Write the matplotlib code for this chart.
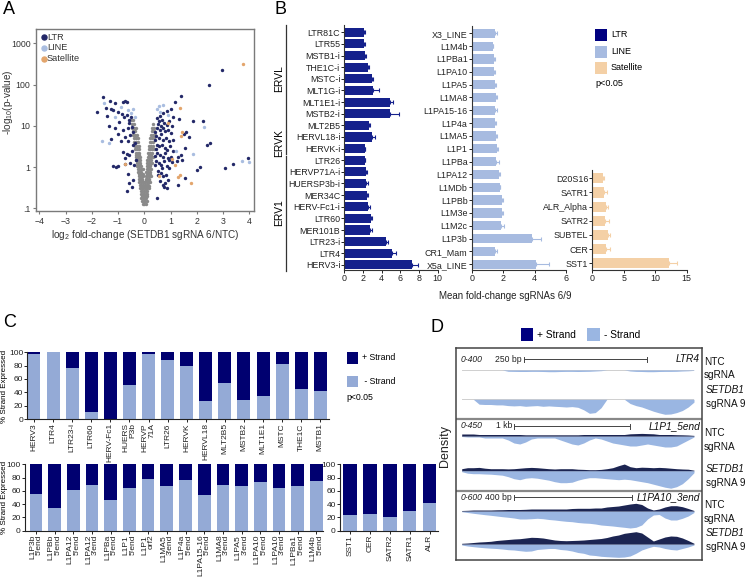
import numpy as np
import matplotlib
matplotlib.use("Agg")
import matplotlib.pyplot as plt
from matplotlib.lines import Line2D
from matplotlib.patches import Rectangle
from matplotlib.ticker import NullLocator

plt.rcParams['font.family'] = ['Liberation Sans', 'DejaVu Sans']
plt.rcParams['mathtext.fontset'] = 'custom'
plt.rcParams['mathtext.rm'] = 'Liberation Sans'
plt.rcParams['mathtext.it'] = 'Liberation Sans:italic'

# ---------------- Panel A data (volcano) ----------------
gray_levels = [14, 11, 9, 7.5, 6, 5, 4, 3.3, 2.7, 2.2, 2.0, 1.8, 1.5, 1.25, 1.15, 1.05, 0.88,
               0.74, 0.68, 0.62, 0.52, 0.48, 0.44, 0.37, 0.34, 0.31, 0.26, 0.22, 0.2, 0.18, 0.15, 0.125]
gray_rows = [
    [-0.50, -0.42],
    [-0.48, -0.40, 0.34],
    [-0.46, -0.38, -0.32, 0.30, 0.38],
    [-0.44, -0.36, 0.28, 0.35],
    [-0.42, -0.35, -0.28, 0.25, 0.32, 0.40],
    [-0.40, -0.33, -0.26, 0.22, 0.29, 0.36],
    [-0.38, -0.31, -0.24, 0.20, 0.27, 0.34],
    [-0.36, -0.29, -0.22, 0.18, 0.25, 0.32],
    [-0.35, -0.28, -0.21, 0.17, 0.23, 0.30, 0.37],
    [-0.33, -0.26, -0.19, 0.15, 0.21, 0.28],
    [-0.30, -0.22, 0.18, 0.24],
    [-0.31, -0.25, -0.18, 0.14, 0.20, 0.26, 0.33],
    [-0.30, -0.23, -0.16, 0.12, 0.18, 0.24],
    [-0.28, -0.22, -0.15, 0.11, 0.17, 0.23, 0.30],
    [-0.25, -0.18, 0.14, 0.20],
    [-0.27, -0.20, -0.13, 0.10, 0.16, 0.22],
    [-0.25, -0.19, -0.12, -0.06, 0.09, 0.15, 0.21, 0.27],
    [-0.24, -0.17, -0.11, 0.08, 0.14, 0.20],
    [-0.20, -0.13, -0.07, 0.10, 0.16, 0.22],
    [-0.22, -0.16, -0.10, -0.04, 0.06, 0.12, 0.18, 0.24],
    [-0.20, -0.14, -0.08, 0.05, 0.11, 0.17],
    [-0.17, -0.10, 0.07, 0.13, 0.19],
    [-0.19, -0.13, -0.07, -0.02, 0.04, 0.10, 0.16, 0.21],
    [-0.17, -0.11, -0.05, 0.03, 0.09, 0.14],
    [-0.14, -0.07, 0.05, 0.10, 0.16],
    [-0.16, -0.10, -0.04, 0.01, 0.07, 0.12, 0.18],
    [-0.14, -0.08, -0.02, 0.05, 0.11],
    [-0.13, -0.07, 0.00, 0.06, 0.12],
    [-0.10, -0.03, 0.04, 0.10],
    [-0.11, -0.05, 0.02, 0.08],
    [-0.09, -0.03, 0.04, 0.09],
    [-0.06, 0.00, 0.05],
]

ltr_x = [-1.58, -1.30, -1.10, -1.80, -1.46, -1.27, -1.18, -1.02, -0.80, -0.72, -0.65, -1.43, -0.85,
         -0.77, -0.67, -0.51, -0.57, -1.36, -1.12, -0.80, -0.63, -0.44, -0.53, -1.27, -0.89, -0.63,
         -0.44, -0.80, -0.67, -0.57, -0.47, -1.21, -1.08, -1.02, -0.72, -0.55, -0.38, -0.63, -0.44,
         -0.57, -0.66, -0.47, -0.72, -0.33, -0.35, -0.95, -0.60, -1.00, -0.75, -0.48,
         1.40, 1.17, 1.00, 0.85, 0.72, 0.60, 1.84, 2.25, 1.59, 1.51, 1.33, 1.11, 1.72, 2.50, 2.38,
         1.55, 1.38, 1.30, 1.42, 1.23, 1.04, 0.95, 2.12, 2.02, 3.07, 3.39, 3.96, 1.55, 1.30, 0.79,
         0.75, 0.47, 0.53, 0.66, 2.97, 2.48,
         0.47, 0.57, 0.66, 0.75, 0.85, 0.95, 1.04, 0.50, 0.60, 0.70, 0.79, 0.89, 1.00,
         0.45, 0.55, 0.64, 0.72, 0.83, 0.93, 1.08, 0.47, 0.57, 0.67, 0.78, 0.88, 0.98, 1.11,
         0.50, 0.60, 0.70, 0.80, 0.90, 1.00, 0.45, 0.55, 0.65, 0.75, 0.85, 0.95,
         0.53, 0.62, 0.72, 0.83, 0.92, 0.60, 0.70, 0.85, 0.52, 0.62, 0.42, 0.40, 0.43, 0.40, 0.42]
ltr_y = [51, 41, 36, 22, 27, 26, 24, 22, 38, 41, 38, 17, 19.5,
         16, 18, 16, 11.7, 9.8, 8.7, 8.1, 8.9, 7.1, 5.9, 4.7, 4.4, 4.3,
         3.5, 2.3, 2.1, 2.0, 2.5, 1.05, 1.0, 1.05, 1.2, 1.26, 1.12, 0.68, 0.5,
         0.42, 0.26, 0.32, 1.7, 1.5, 3.9, 12.5, 14, 6.5, 5.5, 9.5,
         54, 39, 25, 23, 21, 17, 12.9, 12.9, 7.2, 6.3, 14.8, 16.2, 5.4, 3.9, 3.4,
         2.95, 2.0, 1.78, 1.48, 1.38, 1.32, 1.48, 1.02, 0.85, 0.93, 1.17, 1.62, 0.54, 0.37, 0.41,
         0.32, 0.18, 0.66, 0.95, 229, 96,
         15.5, 12.9, 14.1, 11.7, 10.7, 12.9, 9.8, 8.9, 8.1, 8.9, 7.4, 8.1, 6.8,
         5.6, 5.0, 6.2, 4.6, 5.0, 4.2, 4.6, 3.5, 3.2, 3.5, 2.9, 2.6, 3.2, 2.4,
         2.2, 2.0, 1.8, 2.2, 1.66, 1.8, 1.38, 1.26, 1.15, 1.38, 1.05, 0.95,
         0.79, 0.72, 0.60, 0.66, 0.49, 0.45, 0.37, 0.31, 11, 10, 7, 4.5, 2.8, 1.9, 1.1]
line_x = [-1.53, -1.12, -0.63, -1.36, -0.44, -0.35, -0.90, 2.27, 1.84, 3.71, 3.99, 0.55, 0.60,
          0.48, 0.70, 1.20, 0.90, -0.50, -1.60]
line_y = [36, 16, 24, 3.9, 25, 16, 28, 9.5, 2.1, 1.41, 1.35, 30, 22, 25, 32, 2.5, 18, 20, 4.2]
sat_x = [3.76, 1.42, 1.38, 1.36, 1.76, 1.17, -0.72, 1.35, 0.90, 0.55, 1.05, 1.30]
sat_y = [316, 7.2, 5.6, 0.66, 0.41, 1.12, 1.17, 27, 12, 0.60, 1.6, 0.57]

# ---------------- Panel B data ----------------
ltr_names = ['LTR81C', 'LTR55', 'MSTB1-i', 'THE1C-i', 'MSTC-i', 'MLT1G-i', 'MLT1E1-i', 'MSTB2-i',
             'MLT2B5', 'HERVL18-i', 'HERVK-i', 'LTR26', 'HERVP71A-i', 'HUERSP3b-i', 'MER34C',
             'HERV-Fc1-i', 'LTR60', 'MER101B', 'LTR23-i', 'LTR4', 'HERV3-i']
ltr_vals = [2.14, 2.1, 2.2, 2.57, 2.93, 3.1, 4.9, 4.9, 2.64, 3.0, 2.2, 2.2, 2.3, 2.3, 2.46, 2.5,
            2.86, 2.8, 4.43, 5.07, 7.3]
ltr_err = [0.1, 0.08, 0.15, 0.08, 0.1, 0.6, 0.3, 0.95, 0.12, 0.3, 0.06, 0.05, 0.08, 0.25, 0.06,
           0.25, 0.08, 0.2, 0.27, 0.5, 0.6]
line_names = ['X3_LINE', 'L1M4b', 'L1PBa1', 'L1PA10', 'L1PA5', 'L1MA8', 'L1PA15-16', 'L1P4a',
              'L1MA5', 'L1P1', 'L1PBa', 'L1PA12', 'L1MDb', 'L1PBb', 'L1M3e', 'L1M2c', 'L1P3b',
              'CR1_Mam', 'X5a_LINE']
line_vals = [1.49, 1.34, 1.43, 1.45, 1.49, 1.56, 1.51, 1.51, 1.56, 1.6, 1.56, 1.71, 1.77, 1.92,
             1.92, 1.88, 3.84, 1.49, 4.12]
line_err = [0.15, 0.04, 0.05, 0.04, 0.05, 0.05, 0.13, 0.04, 0.05, 0.05, 0.15, 0.1, 0.05, 0.06,
            0.1, 0.19, 0.56, 0.11, 0.78]
sat_names = ['D20S16', 'SATR1', 'ALR_Alpha', 'SATR2', 'SUBTEL', 'CER', 'SST1']
sat_vals = [1.75, 1.9, 2.17, 2.0, 2.54, 2.17, 12.2]
sat_err = [0.05, 0.4, 0.38, 0.65, 0.26, 0.63, 1.2]

# ---------------- Panel C data (% minus strand) ----------------
c_ltr_names = ['HERV3', 'LTR4', 'LTR23-i', 'LTR60', 'HERV-Fc1', 'HUERS\nP3b', 'HERVP\n71A', 'LTR26',
               'HERVK', 'HERVL18', 'MLT2B5', 'MSTB2', 'MLT1E1', 'MSTC', 'THE1C', 'MSTB1']
c_ltr_minus = [97, 100, 77, 10, 0, 51, 97, 89, 79, 27, 54, 28, 35, 82, 45, 42]
c_line_names = ["L1P3b\n5'end", "L1PBb\n5'end", "L1PA12\n5'end", "L1PA12\n3'end", "L1PBa\n5'end",
                "L1P1\n5'end", "L1P1\norf2", "L1MA5\n3'end", "L1P4a\n5'end", "L1PA15-16\n5'end",
                "L1MA8\n3'end", "L1PA5\n3'end", "L1PA10\n5'end", "L1PA10\n3'end",
                "L1PBa1\n5'end", "L1M4b\n5'end"]
c_line_minus = [56, 34, 62, 69, 46, 64, 78, 68, 76, 54, 69, 67, 73, 64, 67, 75]
c_sat_names = ['SST1', 'CER', 'SATR2', 'SATR1', 'ALR']
c_sat_minus = [23, 25, 20, 29, 41]

# ---------------- Panel D data (read-coverage profiles, 41 positions) ----------------
ltr4_ntc_minus = [0]*8 + [1.3, 1.4, 1.5, 1.5, 1.4, 1.4, 1.5, 1.7, 1.7, 1.5, 1.4, 1.4, 1.5, 1.4, 1.3,
                          1.0, 0.7] + [0]*4 + [1.0, 1.4, 1.5, 1.7, 1.7, 1.5, 1.4, 1.4, 1.3, 1.0, 0.8, 0.4]
ltr4_kd_minus = [0, 0, 0, 4.9, 5.2, 5.2, 5.6, 5.6, 6.3, 6.6, 6.3, 7.0, 6.6, 6.3, 7.0, 6.6, 7.0, 7.3,
                 7.7, 7.3, 8.0, 10.5, 14.0, 13.3, 8.4, 0, 0, 0, 0, 4.2, 6.3, 7.7, 9.8, 11.9, 13.6,
                 15.0, 14.7, 13.3, 11.2, 7.7, 2.8]
l1p1_ntc_plus = [2, 2, 2, 1.5, 1.5, 1.5, 1.5, 1.5, 1.5, 1.5, 1.5, 1.2, 1.2, 1.2, 1.2, 1.2, 1.2, 1.2,
                 1.2, 1.2, 1.2, 1.5, 1.5, 1.5, 1.5, 1.5, 1.5, 1.5, 1.5, 2.2, 2.4, 2.6, 2.4, 2.2,
                 1.5, 1.5, 1.5, 1.3, 1.2, 1.0, 0.6]
l1p1_ntc_minus = [0.5, 1, 1, 1, 2, 2, 2, 2, 4, 7, 8, 6, 3, 2, 2, 2, 2, 4, 6, 8, 9, 7, 4, 2, 3, 5, 7,
                  8, 9, 10, 10, 9, 8, 9, 10, 11, 11, 10, 7, 4, 1]
l1p1_kd_plus = [2, 3, 3, 3.3, 2.5, 2, 2, 2, 1.8, 2, 2.5, 3, 3.3, 3, 2.5, 2, 1.7, 2, 2, 2, 1.5, 1.3,
                1, 1, 1.3, 2, 3, 5, 6.7, 4, 3, 3.5, 3.3, 3, 3.3, 3, 2.5, 2, 1.7, 1.5, 0.5]
l1p1_kd_minus = [1, 2.5, 3, 3, 3.3, 3.5, 4, 4.5, 6, 8, 9, 7.5, 7, 7.5, 8.5, 9.5, 11, 12, 12, 11.5,
                 9.5, 8, 7, 7, 7.5, 8, 8.5, 9, 8.5, 9, 10, 11, 12, 13.5, 15, 16.5, 17.5, 16, 13, 8, 2]
l1pa10_ntc_plus = [0.5, 0.7, 1, 1, 1, 1, 1.2, 1.3, 1.5, 1.5, 1.5, 1.7, 2, 2, 2, 2, 2, 2, 2, 2.5,
                   2.7, 2.7, 2.7, 3, 3, 4, 4.5, 5, 6, 7, 7.7, 6.5, 3, 1, 2, 4, 5.3, 5.3, 4.3, 2.5, 0.5]
l1pa10_ntc_minus = [0.7, 1.5, 2.3, 3, 3.7, 4.3, 5, 5.7, 6.3, 7, 8, 8, 7.7, 7.3, 7.7, 8.5, 9, 9.7,
                    10.3, 10.7, 11.5, 12, 12.3, 13, 14, 14.5, 15, 15.7, 16.3, 17, 16.3, 14, 8, 4,
                    3.5, 7, 9, 9, 7.3, 5, 1.5]
l1pa10_kd_plus = [0.7, 1, 1.5, 2, 2.3, 2.7, 3.5, 4, 4.5, 5, 5.3, 6, 6.7, 6.5, 6, 5, 4, 3.5, 3.3,
                  3.5, 3.7, 4, 4.5, 5, 5.5, 6.5, 8, 9, 10.7, 11.5, 12.3, 11, 7, 3, 5, 7, 8, 7.7, 6,
                  3.5, 0.7]
l1pa10_kd_minus = [1, 2, 2.7, 3.3, 3.8, 4.2, 4.5, 5, 5.7, 6, 6.7, 7.3, 7, 5.5, 5, 4.5, 4.5, 5.5, 6,
                   7, 8.5, 9.3, 11, 11.5, 12.3, 12.7, 13, 13.3, 13, 12, 9.3, 6, 4, 2.3, 3, 4.5,
                   5.5, 6, 4.5, 3, 1]

# ---------------- figure ----------------
W, H = 748, 580
fig = plt.figure(figsize=(W / 100, H / 100), dpi=100)


def ax_px(l, t, r, b):
    return fig.add_axes([l / W, 1 - b / H, (r - l) / W, (b - t) / H])


def txt(x, y, s, **kw):
    kw.setdefault('va', 'center')
    fig.text(x / W, 1 - y / H, s, **kw)


def sq(x0, y0, x1, y1, color):
    fig.add_artist(Rectangle((x0 / W, 1 - y1 / H), (x1 - x0) / W, (y1 - y0) / H,
                             transform=fig.transFigure, color=color, lw=0))


def vline(x, y0, y1, color='#333333', lw=0.9):
    fig.add_artist(Line2D([x / W, x / W], [1 - y0 / H, 1 - y1 / H], transform=fig.transFigure,
                          color=color, lw=lw))


# panel letters
txt(3, 9, 'A', fontsize=13)
txt(274, 9, 'B', fontsize=13)
txt(3, 323, 'C', fontsize=13)
txt(431, 327, 'D', fontsize=13)

# ---------------- Panel A ----------------
axA = ax_px(36, 29, 254, 211)
gx = [x for row in gray_rows for x in row]
gy = [lv for lv, row in zip(gray_levels, gray_rows) for _ in row]
axA.scatter(gx, gy, s=6, c='#8a8a8a', lw=0, zorder=2)
axA.scatter(ltr_x, ltr_y, s=6, c='#232868', lw=0, zorder=3)
axA.scatter(line_x, line_y, s=6, c='#a9bde0', lw=0, zorder=3)
axA.scatter(sat_x, sat_y, s=6, c='#e3a56c', lw=0, zorder=3)
axA.set_yscale('log')
axA.set_xlim(-4.13, 4.18)
axA.set_ylim(10 ** -1.065, 10 ** 3.35)
axA.set_xticks(range(-4, 5))
axA.set_yticks([0.1, 1, 10, 100, 1000])
axA.set_yticklabels(['.1', '1', '10', '100', '1000'])
axA.yaxis.set_minor_locator(NullLocator())
for s in axA.spines.values():
    s.set_color('#7a7a7a')
    s.set_linewidth(1.0)
axA.tick_params(labelsize=6.3, colors='#333333', length=2.5, width=0.8, pad=1.5)
axA.tick_params(color='#7a7a7a')
axA.set_xlabel('log$_2$ fold-change (SETDB1 sgRNA 6/NTC)', fontsize=7.2, color='#333333', labelpad=2)
axA.set_ylabel('-log$_{10}$(p-value)', fontsize=7.2, color='#333333')
axA.yaxis.set_label_coords((15.5 - 36) / 218, (211 - 102) / 182)
for i, (lab, col) in enumerate([('LTR', '#232868'), ('LINE', '#a9bde0'), ('Satellite', '#e3a56c')]):
    yy = 37 + i * 10.8
    fig.add_artist(Line2D([44 / W], [1 - yy / H], marker='o', ms=3.6, color=col, lw=0,
                          transform=fig.transFigure))
    txt(47, yy, lab, fontsize=6.6, color='#333333')

# ---------------- Panel B ----------------
c_ltr, c_line, c_sat = '#15218c', '#a7bbe0', '#f4d0a6'


def bar_panel(l, t, r, b, names, vals, errs, color, first, step, xmax, xticks, height):
    ax = ax_px(l, t, r, b)
    n = len(names)
    y = np.arange(n)
    ax.barh(y, vals, height=height, color=color, zorder=2)
    ax.errorbar(vals, y, xerr=[np.zeros(n), errs], fmt='none', ecolor=color, elinewidth=0.8,
                capsize=1.6, capthick=0.8, zorder=1)
    ax.set_ylim(n - 1 + (b - (first + (n - 1) * step)) / step, -(first - t) / step)
    ax.set_xlim(0, xmax)
    ax.set_yticks(y)
    ax.set_yticklabels(names)
    ax.set_xticks(xticks)
    for s in ['top', 'right']:
        ax.spines[s].set_visible(False)
    for s in ['left', 'bottom']:
        ax.spines[s].set_color('#333333')
        ax.spines[s].set_linewidth(0.8)
    ax.tick_params(labelsize=6.4, length=2, width=0.7, pad=1, colors='#222222')
    return ax


bar_panel(344.3, 25, 437.7, 270, ltr_names, ltr_vals, ltr_err, c_ltr, 32.3, 11.63, 10,
          [0, 2, 4, 6, 8, 10], 0.78)
bar_panel(471.7, 26, 566, 270, line_names, line_vals, line_err, c_line, 33.3, 12.83, 6,
          [0, 2, 4, 6], 0.72)
bar_panel(592.3, 170, 686.7, 270, sat_names, sat_vals, sat_err, c_sat, 178.3, 14.17, 15,
          [0, 5, 10, 15], 0.72)
txt(505, 296, 'Mean fold-change sgRNAs 6/9', fontsize=7, ha='center', color='#222222')


# family brackets
def row_y(i):
    return 32.3 + i * 11.63


vline(285.5, row_y(-0.6), row_y(8.45))
vline(285.5, row_y(8.6), row_y(10.45))
vline(285.5, row_y(10.6), row_y(20.5))
txt(279, row_y(4.0), 'ERVL', fontsize=7.4, rotation=90, ha='center')
txt(279, row_y(9.55), 'ERVK', fontsize=7.4, rotation=90, ha='center')
txt(279, row_y(15.5), 'ERV1', fontsize=7.4, rotation=90, ha='center')

# legend B
sq(595, 29, 607, 41, '#000080')
sq(595, 46, 607, 58, c_line)
sq(595, 62, 607, 74, c_sat)
txt(611, 34.5, 'LTR', fontsize=6.5)
txt(611, 51.5, 'LINE', fontsize=6.5)
txt(611, 68, 'Satellite', fontsize=6.5)
txt(595, 83.5, 'p<0.05', fontsize=6.5)

# ---------------- Panel C ----------------
c_dark, c_light = '#000070', '#94aad6'


def strand_panel(l, t, r, b, names, minus, first, step):
    ax = ax_px(l, t, r, b)
    n = len(names)
    x = np.arange(n)
    minus = np.array(minus, dtype=float)
    ax.bar(x, minus, width=0.68, color=c_light, lw=0)
    ax.bar(x, 100 - minus, bottom=minus, width=0.68, color=c_dark, lw=0)
    ax.set_xlim(-(first - l) / step, n - 1 + (r - (first + (n - 1) * step)) / step)
    ax.set_ylim(0, 100)
    ax.set_yticks([0, 20, 40, 60, 80, 100])
    ax.set_xticks(x)
    ax.set_xticklabels(names, rotation=90, linespacing=0.95, multialignment='right')
    for s in ['top', 'right']:
        ax.spines[s].set_visible(False)
    for s in ['left', 'bottom']:
        ax.spines[s].set_color('#222222')
        ax.spines[s].set_linewidth(0.8)
    ax.tick_params(labelsize=6.0, length=2, width=0.7, pad=1, colors='#222222')
    return ax


strand_panel(27.3, 352.3, 328.7, 419, c_ltr_names, c_ltr_minus, 34.0, 19.09)
strand_panel(25, 464.3, 323.3, 530.7, c_line_names, c_line_minus, 36.0, 18.69)
strand_panel(340, 464.3, 438, 530.7, c_sat_names, c_sat_minus, 350.0, 19.9)
txt(4.5, 386, '% Strand Expressed', fontsize=5.8, rotation=90, ha='center')
txt(4.5, 497, '% Strand Expressed', fontsize=5.8, rotation=90, ha='center')
sq(346.7, 352, 358, 363.5, c_dark)
sq(346.7, 375.5, 358, 387, c_light)
txt(362, 358, '+ Strand', fontsize=6.3)
txt(362, 381, ' - Strand', fontsize=6.3)
txt(346, 398, 'p<0.05', fontsize=6.3)

# ---------------- Panel D ----------------
d_dark, d_light = '#1c2552', '#9ab6e2'
axD = ax_px(456, 347.7, 702.3, 560)
axD.set_xlim(0, 1)
axD.set_ylim(560, 347.7)
axD.set_xticks([])
axD.set_yticks([])
for s in axD.spines.values():
    s.set_color('#444444')
    s.set_linewidth(1.1)
axD.axhline(419.3, color='#888888', lw=1.6)
axD.axhline(491, color='#888888', lw=1.6)

pos = np.linspace(0, 1, 41)
tracks = [
    (370, None, ltr4_ntc_minus),
    (399.3, None, ltr4_kd_minus),
    (436, l1p1_ntc_plus, l1p1_ntc_minus),
    (470.7, l1p1_kd_plus, l1p1_kd_minus),
    (511, l1pa10_ntc_plus, l1pa10_ntc_minus),
    (544, l1pa10_kd_plus, l1pa10_kd_minus),
]
for base, plus, minus in tracks:
    ax = ax_px(461.7, base - 20, 694, base + 20)
    ax.set_xlim(0, 1)
    ax.set_ylim(-20, 20)
    ax.axis('off')
    ax.axhline(0, color='#cfcfcf', lw=0.7, zorder=1)
    ax.fill_between(pos, 0, -np.array(minus, dtype=float), color=d_light, lw=0, zorder=2)
    if plus is not None:
        ax.fill_between(pos, 0, np.array(plus, dtype=float), color=d_dark, lw=0, zorder=3)

headers = [(359, '0-400', 522, '250 bp', 523.5, 647, 'LTR4'),
           (426, '0-450', 512, '1 kb', 513.5, 630, 'L1P1_5end'),
           (497, '0-600', 512, '400 bp', 513.5, 632, 'L1PA10_3end')]
for y, rng, xs, scale, b0, b1, name in headers:
    txt(461, y, rng, fontsize=6.2, style='italic', color='#222222')
    txt(xs, y, scale, fontsize=6.2, ha='right', color='#222222')
    fig.add_artist(Line2D([b0 / W, b1 / W], [1 - y / H, 1 - y / H], transform=fig.transFigure,
                          color='#444444', lw=0.7))
    vline(b0, y - 2.5, y + 2.5, color='#444444', lw=0.7)
    vline(b1, y - 2.5, y + 2.5, color='#444444', lw=0.7)
    txt(700, y, name, fontsize=7.3, style='italic', ha='right', color='#111111')

for y0 in [362, 433, 505]:
    txt(704, y0, 'NTC', fontsize=7.2, color='#111111')
    txt(704, y0 + 13.5, 'sgRNA', fontsize=7.2, color='#111111')
for y0 in [390, 469, 533.5]:
    txt(745, y0, 'SETDB1', fontsize=7.2, style='italic', ha='right', color='#111111')
    txt(745, y0 + 14, 'sgRNA 9', fontsize=7.2, ha='right', color='#111111')
txt(445, 446, 'Density', fontsize=9, rotation=90, ha='center', color='#222222')

sq(521, 328, 533, 341, '#000080')
sq(587, 328, 600, 341, d_light)
txt(537, 334.5, '+ Strand', fontsize=7.3)
txt(604, 334.5, '- Strand', fontsize=7.3)

fig.savefig('out.png', dpi=100)
